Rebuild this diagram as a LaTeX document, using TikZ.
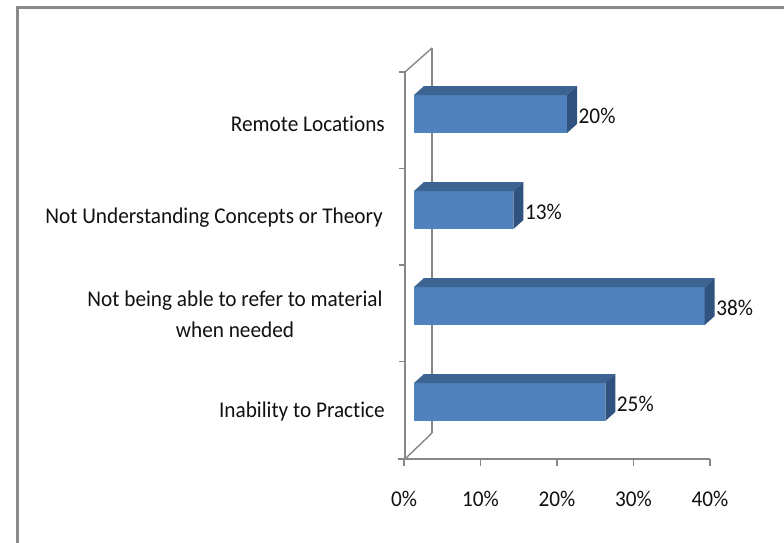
\documentclass[tikz,border=0pt]{standalone}
\usepackage{fontspec}
\setmainfont[Ligatures=NoCommon, FakeStretch=0.945]{Carlito}
\definecolor{barfront}{HTML}{4F81BD}
\definecolor{bartop}{HTML}{3D6393}
\definecolor{barside}{HTML}{30527E}
\definecolor{axisgray}{HTML}{878787}
\definecolor{framegray}{HTML}{8A8A8A}
\definecolor{txt}{HTML}{111111}
\tikzset{
  lbl/.style={font=\fontsize{22.5}{31}\selectfont, text=txt, inner sep=0pt},
  axisline/.style={draw=axisgray, line width=1.4pt},
}
\newcommand{\mybar}[3]{% #1 top y, #2 value, #3 name
  \pgfmathsetmacro{\xr}{414+7.65*#2}
  \fill[barfront] (414,#1) rectangle (\xr,#1+38);
  \fill[bartop] (414,#1) -- (424,#1-9) -- (\xr+10,#1-9) -- (\xr,#1) -- cycle;
  \fill[barside] (\xr,#1) -- (\xr+10,#1-9) -- (\xr+10,#1+29) -- (\xr,#1+38) -- cycle;
  \node[lbl, anchor=west] (#3) at (\xr+11.5,#1+21) {#2\%};
}
\begin{document}
\begin{tikzpicture}[x=1pt,y=-1pt]
\useasboundingbox (0,0) rectangle (784,543);
\fill[white] (0,0) rectangle (784,543);
% frame
\draw[framegray, line width=2.4pt] (17.5,545) -- (17.5,7.5) -- (786,7.5);
% axes / walls
\draw[axisline] (432,48) -- (432,433);
\draw[axisline] (405,72) -- (432,48);
\draw[axisline] (405,459) -- (432,433);
\draw[axisline] (405,72) -- (405,459);
\foreach \y in {72,168.5,265,361.5} \draw[axisline] (399,\y) -- (405,\y);
\draw[axisline] (398,459) -- (710,459);
\foreach \x in {404,480.5,557,633.5,710} \draw[axisline] (\x,459) -- (\x,466);
% bars
\mybar{95}{20}{v1}
\mybar{191}{13}{v2}
\mybar{287}{38}{v3}
\mybar{383}{25}{v4}
% category labels
\node[lbl, anchor=east] (c1) at (385,124) {Remote Locations};
\node[lbl, anchor=east] (c2) at (383,218) {Not Understanding Concepts or Theory};
\node[lbl, align=center] (c3) at (235,314) {Not being able to refer to material\\when needed};
\node[lbl, anchor=east] (c4) at (385,411) {Inability to Practice};
% tick labels
\foreach \x/\t in {404/0,480.5/10,557/20,633.5/30,710/40}
  \node[lbl] (t\t) at (\x,499) {\t\%};
\end{tikzpicture}
\end{document}
